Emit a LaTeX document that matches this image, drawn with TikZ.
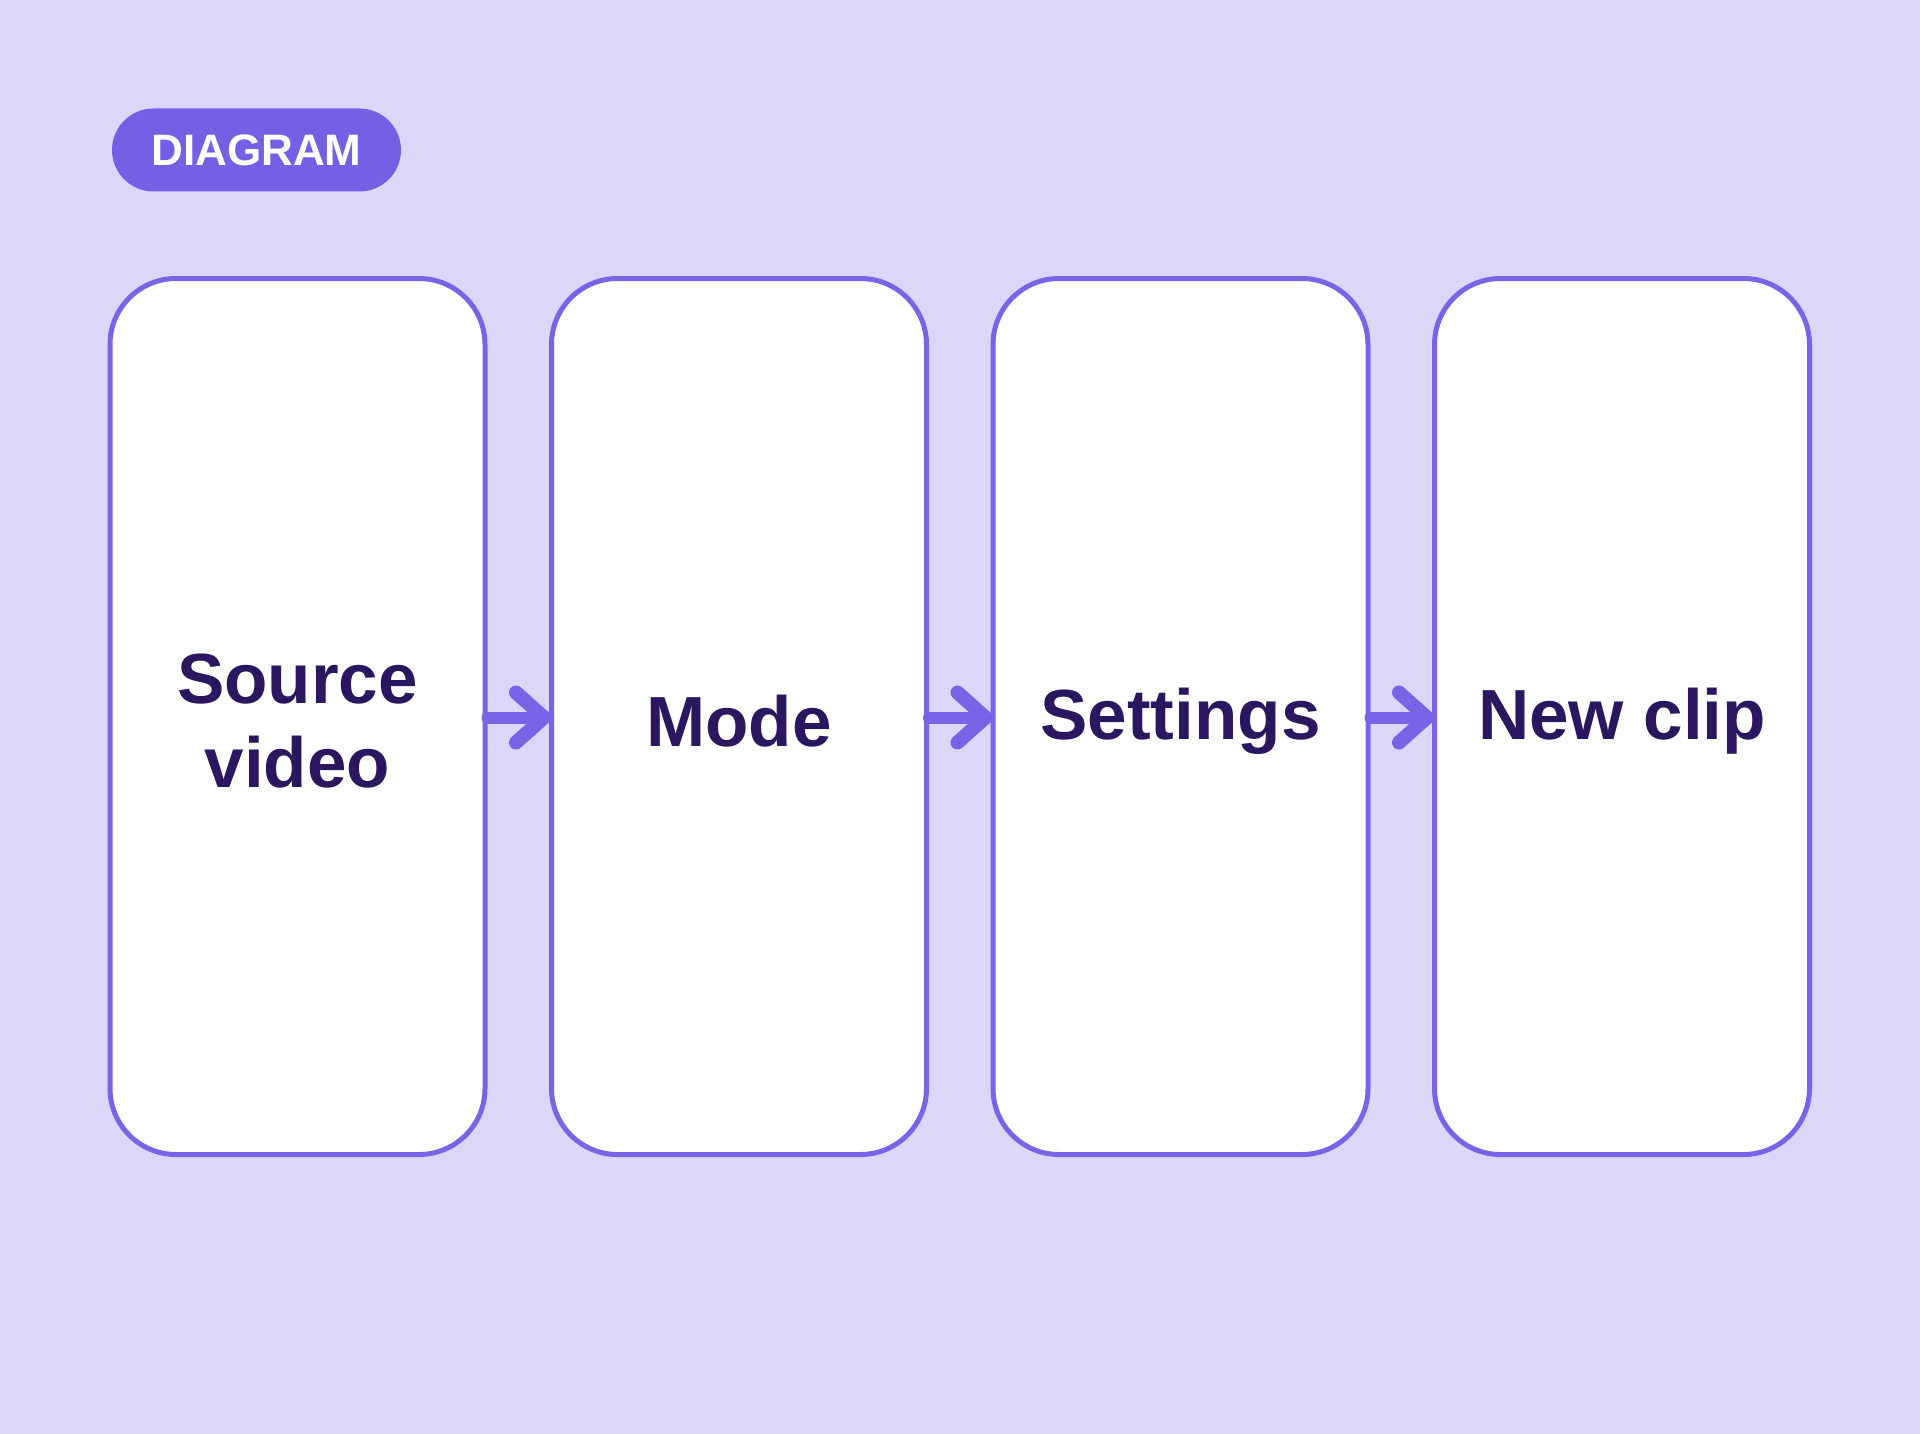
\documentclass[tikz,border=0pt]{standalone}
\usepackage{fontspec}
\setmainfont{Liberation Sans}
\usetikzlibrary{calc}
\definecolor{bgc}{HTML}{DDD6F8}
\definecolor{strokec}{HTML}{7A63E6}
\definecolor{badgec}{HTML}{7560E5}
\definecolor{textc}{HTML}{2A1760}
\tikzset{
  card/.style={draw=strokec, line width=5pt, fill=white, rounded corners=66pt,
    minimum width=375pt, minimum height=876pt, inner sep=0pt},
  cardtext/.style={align=center, inner sep=0pt, text=textc,
    font=\fontsize{71}{84}\selectfont\bfseries},
  badge/.style={fill=badgec, rounded corners=41.5pt, minimum width=289pt,
    minimum height=83pt, inner sep=0pt, text=white,
    font=\fontsize{44}{50}\selectfont\bfseries},
  flow/.style={draw=strokec, line width=12pt, line cap=round, line join=round},
  flowhead/.style={draw=strokec, line width=14pt, line cap=round, line join=round}
}
\begin{document}
\begin{tikzpicture}[x=1pt,y=-1pt]
  \fill[bgc] (0,0) rectangle (1920,1434);
  \useasboundingbox (0,0) rectangle (1920,1434);
  \node[badge] (tag) at (256.5,150) {DIAGRAM};
  \node[card] (b1) at (297.5,716.5) {};
  \node[card] (b2) at (739,716.5) {};
  \node[card] (b3) at (1180.5,716.5) {};
  \node[card] (b4) at (1622,716.5) {};
  \node[cardtext] (t1) at ($(b1.center)+(0,5)$) {Source\\video};
  \node[cardtext] (t2) at ($(b2.center)+(0,5)$) {Mode};
  \node[cardtext] (t3) at ($(b3.center)+(0,5)$) {Settings};
  \node[cardtext] (t4) at ($(b4.center)+(0,5)$) {New clip};
  \foreach \a/\b in {b1/b2,b2/b3,b3/b4}{
    \coordinate (t) at ($(\b.west)+(-5,1)$);
    \draw[flow] (\a.east) ++(0,1) -- (t);
    \draw[flowhead] ($(t)+(-28,-25)$) -- (t) -- ($(t)+(-28,25)$);
  }
\end{tikzpicture}
\end{document}
